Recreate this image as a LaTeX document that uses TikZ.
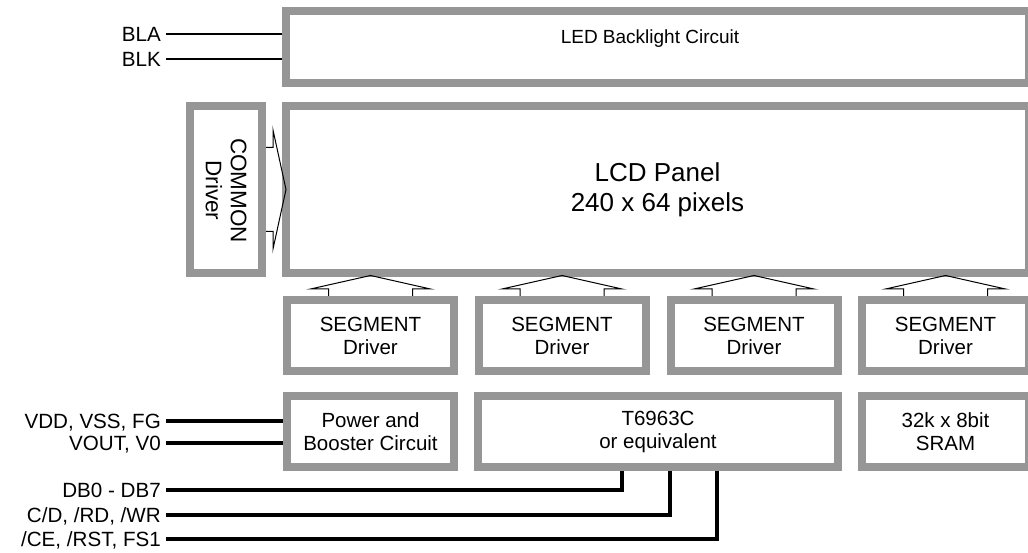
\documentclass[tikz,border=0pt]{standalone}
\usepackage{fontspec}
\setmainfont{Liberation Sans}
\usetikzlibrary{calc}
\definecolor{boxgray}{RGB}{150,150,150}
\begin{document}
\begin{tikzpicture}[x=1pt,y=-1pt,
  blk/.style={draw=boxgray, line width=8pt, fill=white, inner sep=0pt, align=center, font=\fontsize{20.5}{23}\selectfont},
  segbox/.style={blk, minimum width=167pt, minimum height=71pt},
  lbl/.style={anchor=east, inner xsep=5pt, inner ysep=0pt, text height=14.8pt, text depth=0pt, font=\fontsize{20.6}{23}\selectfont},
  thinline/.style={line width=1.3pt},
  bus/.style={line width=3.3pt, line join=miter},
  arr/.style={line width=1pt, line join=miter}]
\useasboundingbox (0,0) rectangle (1028,553);

% boxes
\node[blk, minimum width=743pt, minimum height=72pt] (led) at (657.5,47) {};
\node[font=\fontsize{19}{23}\selectfont, anchor=base] (ledt) at (650,44) {LED Backlight Circuit};
\node[blk, minimum width=743pt, minimum height=167pt, font=\fontsize{26}{30}\selectfont] (lcd) at (657.5,189.5) {LCD Panel\\240 x 64 pixels};
\node[blk, minimum width=72pt, minimum height=167pt] (com) at (226,189.5) {};
\node[rotate=-90, align=center, font=\fontsize{22.5}{25}\selectfont] (comt) at (226,190.5) {COMMON\\Driver};

\node[segbox] (s1) at (370.5,335.5) {SEGMENT\\Driver};
\node[segbox] (s2) at (562,335.5) {SEGMENT\\Driver};
\node[segbox] (s3) at (754,335.5) {SEGMENT\\Driver};
\node[segbox] (s4) at (945.5,335.5) {SEGMENT\\Driver};

\node[segbox] (pwr) at (370.5,431.5) {Power and\\Booster Circuit};
\node[blk, minimum width=360pt, minimum height=71pt] (tc) at (658,431.5) {T6963C\\or equivalent};
\node[segbox] (sram) at (945.5,431.5) {32k x 8bit\\SRAM};

% arrows
\foreach \s in {s1,s2,s3,s4}{
  \draw[arr] ($(\s.north)+(-42,0)$) -- ++(0,-7) -- ++(-18,0)
     -- ($(\s.north |- lcd.south)+(0,-1.5)$)
     -- ($(\s.north)+(60,-7)$) -- ++(-18,0) -- ($(\s.north)+(42,0)$);
}
\draw[arr] ($(com.east)+(0,-42)$) -- ++(7,0) -- ++(0,-17.5)
   -- ($(com.east -| lcd.west)+(4,0)$)
   -- ($(com.east)+(7,59.5)$) -- ++(0,-17.5) -- ($(com.east)+(0,42)$);

% backlight lines
\node[lbl] (bla) at (166,34) {BLA};
\node[lbl] (blk) at (166,59) {BLK};
\draw[thinline] (bla.east) -- (bla.east -| led.west);
\draw[thinline] (blk.east) -- (blk.east -| led.west);

% power lines
\node[lbl] (vdd) at (166,421) {VDD, VSS, FG};
\node[lbl] (vout) at (166,443) {VOUT, V0};
\draw[bus] (vdd.east) -- (vdd.east -| pwr.west);
\draw[bus] (vout.east) -- (vout.east -| pwr.west);

% bus lines
\node[lbl] (db) at (166,490) {DB0 - DB7};
\node[lbl] (cd) at (166,515) {C/D, /RD, /WR};
\node[lbl] (ce) at (166,539) {/CE, /RST, FS1};
\coordinate (xa) at (622,0);
\coordinate (xb) at (670,0);
\coordinate (xc) at (717,0);
\draw[bus] (db.east) -| (tc.south -| xa);
\draw[bus] (cd.east) -| (tc.south -| xb);
\draw[bus] (ce.east) -| (tc.south -| xc);
\end{tikzpicture}
\end{document}
